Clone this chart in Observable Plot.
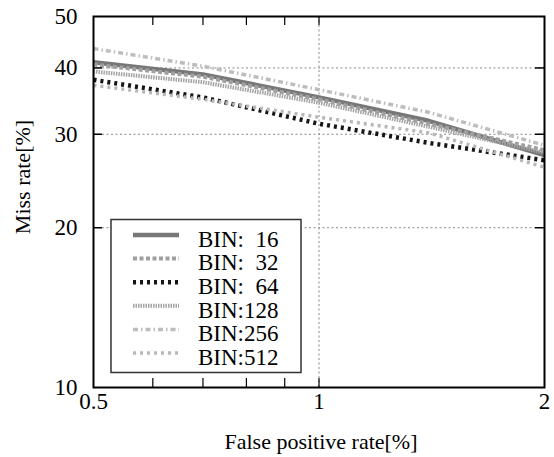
<!DOCTYPE html>
<html>
<head>
<meta charset="utf-8">
<script src="https://cdn.jsdelivr.net/npm/d3@7"></script>
<script src="https://cdn.jsdelivr.net/npm/@observablehq/plot@0.6"></script>
<style>
  body { margin: 0; background: #fff; }
  #chart svg, #chart svg text { font-family: "Liberation Serif", "Times New Roman", "DejaVu Serif", serif; }
</style>
</head>
<body>
<div id="chart"></div>
<script>
// ---- data ----
const fpr = [0.5, 0.7, 1.0, 1.4, 2.0];               // False positive rate [%]
const bin16  = [41.0, 38.9, 35.2, 31.8, 27.4];      // Miss rate [%]
const bin32  = [40.6, 38.5, 34.9, 31.4, 28.0];
const bin64  = [38.0, 35.2, 31.4, 28.9, 26.8];
const bin128 = [39.4, 37.6, 34.4, 31.0, 27.7];
const bin256 = [43.5, 40.3, 36.4, 33.0, 28.6];
const bin512 = [37.1, 34.9, 32.3, 30.2, 26.0];
const seriesNames = ["BIN:  16", "BIN:  32", "BIN:  64", "BIN:128", "BIN:256", "BIN:512"];
const xTicks = [0.5, 1, 2];
const xMinorTicks = [0.6, 0.7, 0.8, 0.9, 1];
const yTicks = [10, 20, 30, 40, 50];
const yMajor = [20, 30, 40];
const xGrid = [1];
const xLabel = "False positive rate[%]";
const yLabel = "Miss rate[%]";

const serif = "'Liberation Serif', 'Times New Roman', 'DejaVu Serif', serif";

// ---- styles ----
const styles = [
  {stroke: "#777777", strokeWidth: 4.5, strokeDasharray: null},
  {stroke: "#a0a0a0", strokeWidth: 4, strokeDasharray: "4,2.5"},
  {stroke: "#151515", strokeWidth: 4.5, strokeDasharray: "3,4"},
  {stroke: "#a4a4a4", strokeWidth: 4, strokeDasharray: "1.5,1"},
  {stroke: "#bdbdbd", strokeWidth: 3.5, strokeDasharray: "5,3,1.5,3"},
  {stroke: "#b8b8b8", strokeWidth: 3.5, strokeDasharray: "3,4"}
];

const values = [bin16, bin32, bin64, bin128, bin256, bin512];
const rows = seriesNames.flatMap((name, i) => fpr.map((x, j) => ({series: name, x, y: values[i][j]})));

const lineMarks = seriesNames.map((name, i) =>
  Plot.line(rows.filter(d => d.series === name), {
    x: "x", y: "y",
    stroke: styles[i].stroke,
    strokeWidth: styles[i].strokeWidth,
    strokeDasharray: styles[i].strokeDasharray,
    strokeLinecap: "butt",
    clip: true
  })
);

const chart = Plot.plot({
  width: 554,
  height: 457,
  marginLeft: 93,
  marginRight: 10,
  marginTop: 16,
  marginBottom: 70,
  style: {fontFamily: serif, fontSize: "23px", background: "white", color: "black"},
  x: {type: "log", domain: [0.5, 2], axis: null},
  y: {type: "log", domain: [10, 50], axis: null},
  marks: [
    Plot.gridX(xGrid, {stroke: "#888", strokeOpacity: 1, strokeDasharray: "2,2.5", strokeWidth: 1}),
    Plot.gridY(yMajor, {stroke: "#888", strokeOpacity: 1, strokeDasharray: "2,2.5", strokeWidth: 1}),
    ...lineMarks,
    Plot.frame({stroke: "black", strokeWidth: 2}),
    // inward ticks on x (bottom and top)
    Plot.ruleX(xMinorTicks, {x: d => d, y1: 10, y2: 10, insetTop: -9, stroke: "black", strokeWidth: 1.2}),
    Plot.ruleX(xMinorTicks, {x: d => d, y1: 50, y2: 50, insetBottom: -9, stroke: "black", strokeWidth: 1.2}),
    // inward ticks on y (left and right)
    Plot.ruleY(yMajor, {y: d => d, x1: 0.5, x2: 0.5, insetRight: -9, stroke: "black", strokeWidth: 1.5}),
    Plot.ruleY(yMajor, {y: d => d, x1: 2, x2: 2, insetLeft: -9, stroke: "black", strokeWidth: 1.5}),
    Plot.axisX(xTicks, {anchor: "bottom", tickSize: 0, tickPadding: 5, fontSize: 23, fontFamily: serif, label: null, tickFormat: d => String(d)}),
    Plot.axisY(yTicks, {anchor: "left", tickSize: 0, tickPadding: 16, fontSize: 23, fontFamily: serif, label: null, tickFormat: d => String(d)})
  ]
});

document.getElementById("chart").appendChild(chart);

const svg = d3.select(chart);

// ---- axis titles ----
svg.append("text")
  .attr("x", 321).attr("y", 449)
  .attr("text-anchor", "middle")
  .attr("font-size", 22).attr("font-family", serif).attr("fill", "black")
  .text(xLabel);
svg.append("text")
  .attr("transform", "translate(30,177) rotate(-90)")
  .attr("text-anchor", "middle")
  .attr("font-size", 22).attr("font-family", serif).attr("fill", "black")
  .text(yLabel);

// ---- legend (inside the plot, lower-left) ----
const lg = svg.append("g").attr("class", "legend");
lg.append("rect")
  .attr("x", 111).attr("y", 219.5).attr("width", 190).attr("height", 153)
  .attr("fill", "white").attr("stroke", "#333").attr("stroke-width", 1.5);
seriesNames.forEach((name, i) => {
  const cy = 235 + i * 23.6;
  const s = styles[i];
  lg.append("line")
    .attr("x1", 133).attr("x2", 179).attr("y1", cy).attr("y2", cy)
    .attr("stroke", s.stroke).attr("stroke-width", s.strokeWidth)
    .attr("stroke-dasharray", s.strokeDasharray);
  lg.append("text")
    .attr("x", 198).attr("y", cy + 11.7)
    .attr("text-anchor", "start")
    .attr("font-size", 23).attr("fill", "black")
    .attr("font-family", serif)
    .style("white-space", "pre")
    .text(name);
});
</script>
</body>
</html>
